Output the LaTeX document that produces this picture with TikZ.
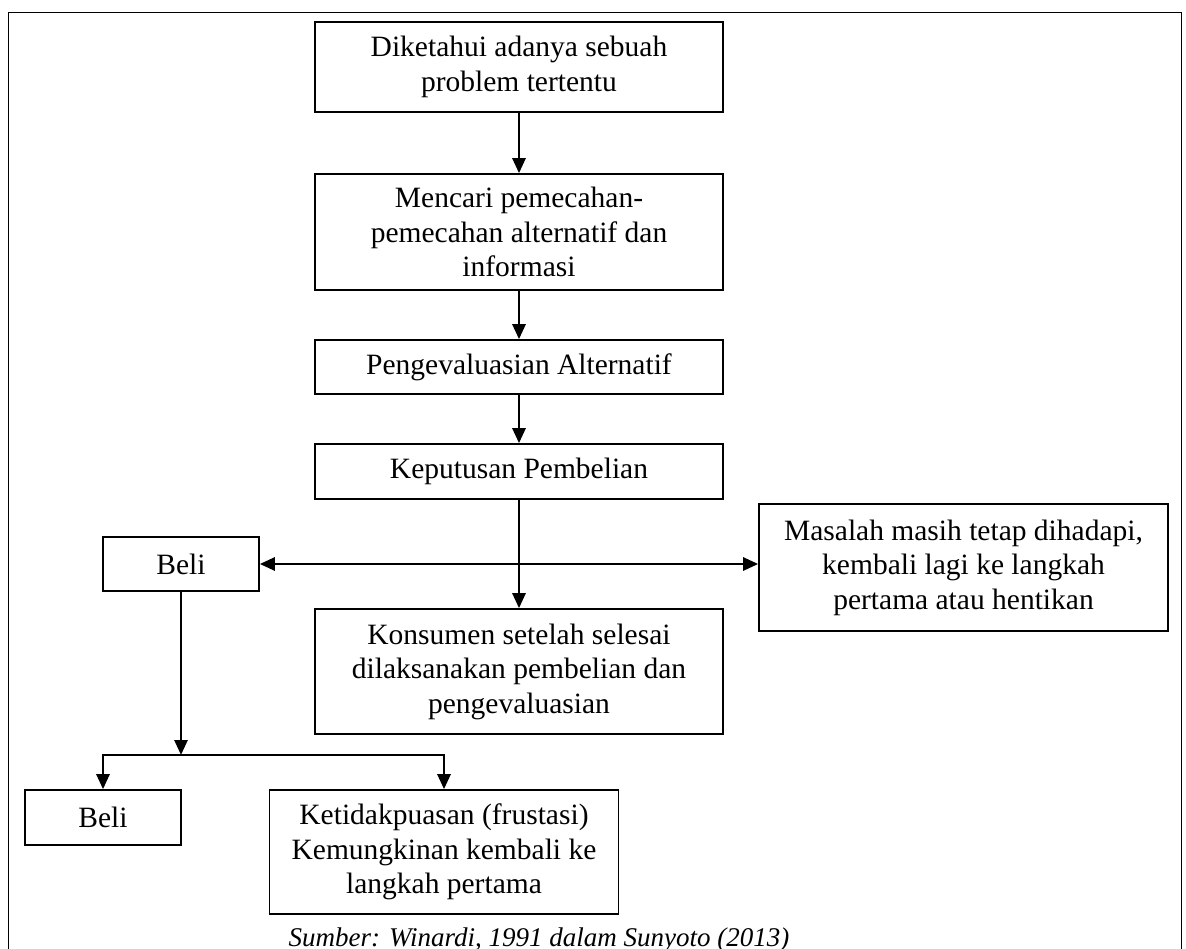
\documentclass[tikz,border=0pt]{standalone}
\usepackage{fontspec}
\setmainfont{Liberation Serif}
\usetikzlibrary{arrows.meta}
\begin{document}
\begin{tikzpicture}[x=1pt,y=-1pt,
  box/.style={draw=black, line width=1.6pt, rectangle, inner sep=0pt, align=center,
    font=\fontsize{29.5}{34.5}\selectfont},
  tip/.style={Triangle[length=15pt,width=13pt]},
  arr/.style={line width=2.7pt, -{Triangle[length=15pt,width=13pt]}},
  darr/.style={line width=2.7pt, {Triangle[length=15pt,width=13pt]}-{Triangle[length=15pt,width=13pt]}}]
\useasboundingbox (0,0) rectangle (1186,949);
\fill[white] (0,0) rectangle (1186,949);
% outer frame (bottom edge lies below the visible area)
\draw[line width=1.8pt] (8.5,960) -- (8.5,12.5) -- (1181.5,12.5) -- (1181.5,960);

\node[box, minimum width=408pt, minimum height=90pt] (b1) at (519,67)
  {Diketahui adanya sebuah\\problem tertentu};
\node[box, minimum width=408pt, minimum height=116pt] (b2) at (519,232)
  {Mencari pemecahan-\\pemecahan alternatif dan\\informasi};
\node[box, minimum width=408pt, minimum height=54pt] (b3) at (519,367)
  {Pengevaluasian Alternatif};
\node[box, minimum width=408pt, minimum height=55pt] (b4) at (519,471.5)
  {Keputusan Pembelian};
\node[box, minimum width=156pt, minimum height=54pt] (beli1) at (181,564)
  {Beli};
\node[box, minimum width=409pt, minimum height=127pt] (mas) at (963.5,567.5)
  {Masalah masih tetap dihadapi,\\kembali lagi ke langkah\\pertama atau hentikan};
\node[box, minimum width=408pt, minimum height=125pt] (kon) at (519,671.5)
  {Konsumen setelah selesai\\dilaksanakan pembelian dan\\pengevaluasian};
\node[box, minimum width=156pt, minimum height=55pt] (beli2) at (103,817.5)
  {Beli};
\node[box, minimum width=349pt, minimum height=124pt] (ket) at (444,852)
  {Ketidakpuasan (frustasi)\\Kemungkinan kembali ke\\langkah pertama};
\node[font=\fontsize{27}{32}\selectfont\itshape, inner sep=0pt, anchor=base] (src) at (539,946)
  {Sumber: Winardi, 1991 dalam Sunyoto (2013)};

\draw[arr] (b1) -- (b2);
\draw[arr] (b2) -- (b3);
\draw[arr] (b3) -- (b4);
\draw[arr] (b4) -- (kon);
\draw[darr] (beli1.east) -- (beli1.east -| mas.west);
\coordinate (split) at (181,755);
\draw[arr] (beli1.south) -- (split);
\draw[arr] (split) -| (beli2.north);
\draw[arr] (split) -| (ket.north);
\end{tikzpicture}
\end{document}
